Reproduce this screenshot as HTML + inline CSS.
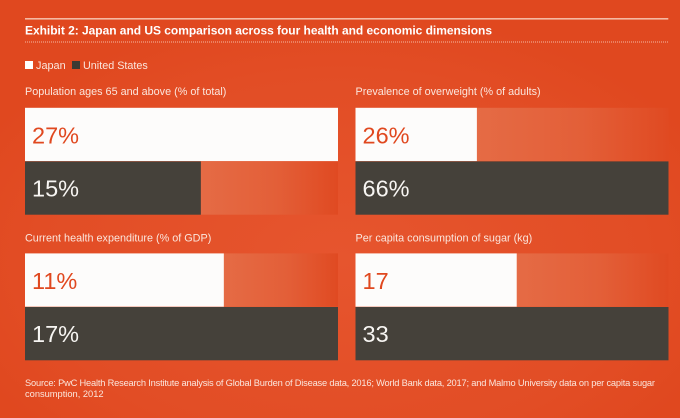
<!DOCTYPE html>
<html>
<head>
<meta charset="utf-8">
<style>
html,body{margin:0;padding:0;background:#e0481f;}
svg{display:block;font-family:"Liberation Sans",sans-serif;}
</style>
</head>
<body>
<svg id="chart" xmlns="http://www.w3.org/2000/svg" width="680" height="418" viewBox="0 0 680 418">
  <defs>
    <radialGradient id="bgGlow" cx="0.5" cy="0.62" r="0.6">
      <stop offset="0" stop-color="#e6552e"/>
      <stop offset="0.75" stop-color="#e24d25"/>
      <stop offset="1" stop-color="#e0481f"/>
    </radialGradient>
    <linearGradient id="fade" x1="0" y1="0" x2="1" y2="0">
      <stop offset="0" stop-color="#e56b45"/>
      <stop offset="0.55" stop-color="#e35f38"/>
      <stop offset="1" stop-color="#e04a22"/>
    </linearGradient>
  </defs>
  <rect width="680" height="418" fill="url(#bgGlow)"/>
  <rect x="25" y="18" width="643.3" height="1.6" fill="#f5b9a3"/>
  <text x="25" y="34.5" font-size="12" font-weight="700" fill="#fff" textLength="467" lengthAdjust="spacing">Exhibit 2: Japan and US comparison across four health and economic dimensions</text>
  <line x1="25" y1="42" x2="668.3" y2="42" stroke="#f5b9a3" stroke-width="1" stroke-dasharray="1 1"/>
  <g>
    <rect x="25" y="61" width="8" height="8" fill="#fff"/>
    <text x="36" y="69" font-size="10.9" fill="#fbe6dd">Japan</text>
    <rect x="72" y="61" width="8" height="8" fill="#3c3a33"/>
    <text x="83" y="69" font-size="10.8" fill="#fbe6dd">United States</text>
  </g>
  <g id="panels"></g>
  <text x="25" y="386" font-size="9.3" fill="#fbe6dd" textLength="630" lengthAdjust="spacing">Source: PwC Health Research Institute analysis of Global Burden of Disease data, 2016; World Bank data, 2017; and Malmo University data on per capita sugar</text>
  <text x="25" y="397" font-size="9.3" fill="#fbe6dd">consumption, 2012</text>
</svg>
<script>
var panelTitles = [
  "Population ages 65 and above (% of total)",
  "Prevalence of overweight (% of adults)",
  "Current health expenditure (% of GDP)",
  "Per capita consumption of sugar (kg)"
];
var japanValues = [26.7, 25.6, 10.8, 17];
var usValues = [15, 66, 17, 33];
var japanLabels = ["27%", "26%", "11%", "17"];
var usLabels = ["15%", "66%", "17%", "33"];

var NS = "http://www.w3.org/2000/svg";
var PANEL_W = 313, BAR_H = 53.3, BAR_GAP = 0.3;
var columnX = function (i) { return i % 2 === 0 ? 25 : 355.5; };
var rowY = function (i) { return i < 2 ? 107.8 : 253.4; };
var titleY = function (i) { return i < 2 ? 95 : 241.7; };
var panelScale = function (i) {
  var max = Math.max(japanValues[i], usValues[i]);
  return function (v) { return v / max * PANEL_W; };
};
var svgEl = function (tag, attrs) {
  var el = document.createElementNS(NS, tag);
  for (var k in attrs) { el.setAttribute(k, attrs[k]); }
  return el;
};
var root = document.getElementById("panels");

panelTitles.forEach(function (title, i) {
  var x = columnX(i), y = rowY(i), scale = panelScale(i);
  var usY = y + BAR_H + BAR_GAP;

  var g = svgEl("g", {});
  
  

  var heading = svgEl("text", { x: x, y: titleY(i), "font-size": 10.82, fill: "#fbe6dd" });
  
  
  heading.textContent = title;
  g.appendChild(heading);

  var jw = scale(japanValues[i]), uw = scale(usValues[i]);

  if (jw < PANEL_W - 0.5) {
    var jTrack = svgEl("rect", { x: x + jw, y: y, width: PANEL_W - jw, height: BAR_H, fill: "url(#fade)" });
    
    
    g.appendChild(jTrack);
  }
  if (uw < PANEL_W - 0.5) {
    var uTrack = svgEl("rect", { x: x + uw, y: usY, width: PANEL_W - uw, height: BAR_H, fill: "url(#fade)" });
    
    
    g.appendChild(uTrack);
  }

  var jBar = svgEl("rect", { x: x, y: y, width: jw, height: BAR_H, fill: "#fdfcfb" });
  
  
  g.appendChild(jBar);

  var uBar = svgEl("rect", { x: x, y: usY, width: uw, height: BAR_H, fill: "#45413a" });
  
  
  g.appendChild(uBar);

  var jText = svgEl("text", { x: x + 7, y: y + 35.5, "font-size": 23.5, fill: "#e0481f" });
  
  
  jText.textContent = japanLabels[i];
  g.appendChild(jText);

  var uText = svgEl("text", { x: x + 7, y: usY + 35, "font-size": 23.5, fill: "#f7f5f2" });
  
  
  uText.textContent = usLabels[i];
  g.appendChild(uText);

  root.appendChild(g);
});
</script>
</body>
</html>
